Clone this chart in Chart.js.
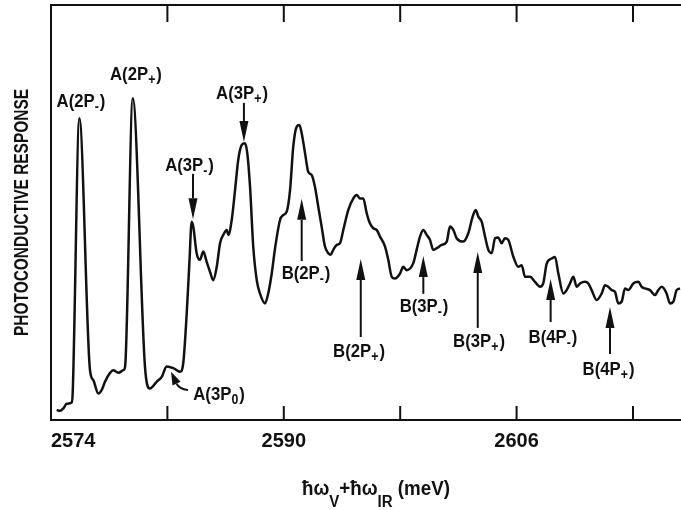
<!DOCTYPE html>
<html>
<head>
<meta charset="utf-8">
<script src="https://cdn.jsdelivr.net/npm/chart.js@4.4.1/dist/chart.umd.min.js"></script>
<style>
  html, body { margin: 0; padding: 0; background: #fff; }
  #wrap { width: 681px; height: 510px; }
</style>
</head>
<body>
<div id="wrap"><canvas id="spectrum" width="681" height="510"></canvas></div>
<script>
// photon energy (meV) and photoconductive response (arb. units)
const energy = [2574.39, 2574.62, 2574.85, 2575.08, 2575.42, 2575.49, 2575.95, 2576.68, 2576.91, 2577.25,
  2577.48, 2577.71, 2578.05, 2578.28, 2578.63, 2578.97, 2579.09, 2579.62, 2580.46, 2580.80,
  2581.26, 2581.61, 2581.95, 2582.41, 2582.87, 2583.09, 2583.33, 2583.51, 2583.67, 2583.78,
  2584.01, 2584.24, 2584.47, 2584.70, 2584.93, 2585.15, 2585.39, 2585.62, 2585.84, 2586.08,
  2586.19, 2586.42, 2586.65, 2586.87, 2587.11, 2587.33, 2587.49, 2587.68, 2587.90, 2588.14,
  2588.36, 2588.71, 2588.93, 2589.17, 2589.40, 2589.74, 2589.97, 2590.20, 2590.43, 2590.65,
  2590.89, 2591.07, 2591.23, 2591.46, 2591.68, 2591.92, 2592.14, 2592.37, 2592.60, 2592.83,
  2593.06, 2593.22, 2593.40, 2593.64, 2593.86, 2594.09, 2594.43, 2594.78, 2595.01, 2595.24,
  2595.46, 2595.70, 2595.92, 2596.15, 2596.38, 2596.61, 2596.96, 2597.18, 2597.42, 2597.64,
  2597.99, 2598.21, 2598.45, 2598.90, 2599.13, 2599.36, 2599.59, 2599.82, 2600.05, 2600.27,
  2600.51, 2600.85, 2601.20, 2601.42, 2601.65, 2601.88, 2602.34, 2602.68, 2602.98, 2603.19,
  2603.37, 2603.60, 2603.83, 2604.06, 2604.29, 2604.52, 2604.74, 2604.97, 2605.20, 2605.43,
  2605.77, 2606.12, 2606.35, 2606.58, 2606.92, 2607.26, 2607.61, 2607.83, 2608.07, 2608.41,
  2608.64, 2608.87, 2609.21, 2609.44, 2609.67, 2609.90, 2610.13, 2610.36, 2610.70, 2610.93,
  2611.16, 2611.50, 2611.85, 2612.08, 2612.30, 2612.54, 2612.76, 2612.99, 2613.22, 2613.45,
  2613.68, 2614.02, 2614.37, 2614.60, 2614.82, 2615.17, 2615.51, 2615.74, 2615.97, 2616.31,
  2616.54, 2616.77, 2617.00, 2617.23];
const response = [2.4, 2.2, 2.8, 3.9, 4.2, 6.5, 72.7, 12.0, 9.6, 6.4,
  7.2, 9.2, 11.3, 12.0, 11.4, 12.0, 12.8, 77.5, 12.8, 7.6,
  9.2, 10.4, 12.9, 12.5, 11.6, 13.7, 25.8, 37.8, 47.8, 46.6,
  40.2, 38.6, 40.6, 38.1, 35.7, 33.7, 36.9, 42.6, 44.6, 45.8,
  44.6, 48.2, 55.4, 62.7, 66.3, 66.7, 64.3, 56.2, 41.8, 33.7,
  30.5, 28.1, 30.5, 35.3, 41.4, 48.2, 49.4, 50.2, 55.4, 65.9,
  70.7, 71.1, 69.1, 64.3, 59.8, 59.0, 56.2, 51.4, 46.6, 41.8,
  40.2, 39.8, 41.0, 42.2, 42.6, 45.8, 50.6, 53.4, 54.2, 53.4,
  53.4, 49.8, 47.4, 46.2, 45.8, 44.2, 41.8, 38.6, 34.5, 34.1,
  35.3, 36.9, 36.1, 37.8, 41.0, 44.2, 45.8, 44.6, 43.4, 41.0,
  41.4, 42.2, 43.0, 46.6, 45.8, 43.8, 43.0, 45.0, 49.0, 50.6,
  49.0, 47.8, 44.2, 41.0, 40.2, 43.8, 44.0, 42.6, 43.8, 43.4,
  39.4, 36.9, 37.3, 34.5, 34.5, 33.3, 32.1, 32.9, 37.7, 38.9,
  39.3, 35.3, 30.5, 31.3, 32.9, 34.5, 32.1, 32.9, 33.3, 32.9,
  31.3, 28.9, 30.5, 32.5, 32.1, 31.3, 30.9, 28.1, 28.5, 31.7,
  31.3, 32.9, 33.3, 32.1, 31.7, 31.3, 30.1, 31.3, 32.1, 30.5,
  28.1, 28.5, 31.3, 31.7];

const tickValues = [2574, 2582, 2590, 2598, 2606, 2614];
const tickLabels = [2574, 2590, 2606];
const yTitle = 'PHOTOCONDUCTIVE RESPONSE';

// peak names, text anchor and arrow (tail -> tip) in energy/response units
const notes = [
  { text: 'A(2P-)', x: 2576.06, y: 75.4 },
  { text: 'A(2P+)', x: 2579.84, y: 81.9 },
  { text: 'A(3P-)', x: 2583.52, y: 60.0, from: [2583.76, 59.3], to: [2583.76, 48.4] },
  { text: 'A(3P+)', x: 2587.13, y: 77.3, from: [2587.26, 76.4], to: [2587.26, 67.0] },
  { text: 'A(3P0)', x: 2585.55, y: 4.8, from: [2583.42, 7.2], bend: [2582.80, 7.5], to: [2582.25, 11.6] },
  { text: 'B(2P-)', x: 2591.53, y: 34.0, from: [2591.23, 38.3], to: [2591.23, 53.3] },
  { text: 'B(2P+)', x: 2595.17, y: 15.2, from: [2595.29, 20.0], to: [2595.29, 38.8] },
  { text: 'B(3P-)', x: 2599.64, y: 26.0, from: [2599.59, 30.4], to: [2599.59, 39.5] },
  { text: 'B(3P+)', x: 2603.42, y: 17.6, from: [2603.33, 22.2], to: [2603.33, 40.5] },
  { text: 'B(4P-)', x: 2608.50, y: 18.6, from: [2608.34, 23.6], to: [2608.34, 34.0] },
  { text: 'B(4P+)', x: 2612.32, y: 10.8, from: [2612.42, 15.9], to: [2612.42, 27.2] }
];

const ink = '#111';
const sans = '"Liberation Sans", Arial, sans-serif';

// text squeezed horizontally, to get the condensed look of the figure lettering
function squeezed(ctx, text, x, y, sx) {
  ctx.save();
  ctx.translate(x, y);
  ctx.scale(sx, 1);
  ctx.fillText(text, 0, 0);
  ctx.restore();
  return ctx.measureText(text).width * sx;
}

function drawPeakLabel(ctx, text, cx, baseline) {
  const main = text.slice(0, -2);
  const sub = text.slice(-2, -1);
  const sx = 0.88;
  ctx.font = 'bold 19px ' + sans;
  const w1 = ctx.measureText(main).width * sx;
  const w3 = ctx.measureText(')').width * sx;
  ctx.font = 'bold 14px ' + sans;
  const w2 = ctx.measureText(sub).width * sx;
  let x = cx - (w1 + w2 + w3 + 1) / 2;
  ctx.font = 'bold 19px ' + sans;
  x += squeezed(ctx, main, x, baseline, sx);
  ctx.font = 'bold 14px ' + sans;
  x += squeezed(ctx, sub, x, baseline + 4, sx) + 1;
  ctx.font = 'bold 19px ' + sans;
  squeezed(ctx, ')', x, baseline, sx);
}

function arrowHead(ctx, tx, ty, ang, len, half) {
  const bx = tx - len * Math.cos(ang), by = ty - len * Math.sin(ang);
  ctx.beginPath();
  ctx.moveTo(tx, ty);
  ctx.lineTo(bx + half * Math.sin(ang), by - half * Math.cos(ang));
  ctx.lineTo(bx - half * Math.sin(ang), by + half * Math.cos(ang));
  ctx.closePath();
  ctx.fill();
  return [bx, by];
}

const figureDecor = {
  id: 'figureDecor',
  afterDraw(chart) {
    const { ctx, chartArea: a, scales: { x, y } } = chart;
    ctx.save();
    ctx.strokeStyle = ink;
    ctx.fillStyle = ink;
    ctx.lineWidth = 2;

    // top frame line and inward tick marks
    ctx.beginPath();
    ctx.moveTo(a.left, a.top);
    ctx.lineTo(a.right, a.top);
    ctx.stroke();
    tickValues.slice(1).forEach(v => {
      const px = x.getPixelForValue(v);
      ctx.beginPath();
      ctx.moveTo(px, a.top);
      ctx.lineTo(px, a.top + 17);
      ctx.moveTo(px, a.bottom);
      ctx.lineTo(px, a.bottom - 14);
      ctx.stroke();
    });

    // peak labels and arrows
    ctx.textAlign = 'left';
    ctx.textBaseline = 'alphabetic';
    notes.forEach(n => {
      drawPeakLabel(ctx, n.text, x.getPixelForValue(n.x), y.getPixelForValue(n.y));
      if (!n.from) return;
      const x0 = x.getPixelForValue(n.from[0]), y0 = y.getPixelForValue(n.from[1]);
      const x1 = x.getPixelForValue(n.to[0]), y1 = y.getPixelForValue(n.to[1]);
      if (n.bend) {
        const xb = x.getPixelForValue(n.bend[0]), yb = y.getPixelForValue(n.bend[1]);
        const ang = Math.atan2(y1 - yb, x1 - xb);
        const [bx, by] = arrowHead(ctx, x1, y1, ang, 13, 4.5);
        ctx.beginPath();
        ctx.moveTo(x0, y0);
        ctx.quadraticCurveTo(xb, yb, bx, by);
        ctx.stroke();
      } else {
        const ang = Math.atan2(y1 - y0, x1 - x0);
        const [bx, by] = arrowHead(ctx, x1, y1, ang, 21, 4.5);
        ctx.beginPath();
        ctx.moveTo(x0, y0);
        ctx.lineTo(bx, by);
        ctx.stroke();
      }
    });

    // y axis title, rotated, centred on the plot height
    ctx.font = 'bold 21px ' + sans;
    const ySx = 247 / ctx.measureText(yTitle).width;
    ctx.save();
    ctx.translate(28, (a.top + a.bottom) / 2);
    ctx.rotate(-Math.PI / 2);
    ctx.textAlign = 'center';
    ctx.scale(ySx, 1);
    ctx.fillText(yTitle, 0, 0);
    ctx.restore();

    // x axis title with subscripts
    const parts = [['ħω', 0], ['V', 1], ['+ħω', 0], ['IR', 1], [' (meV)', 0]];
    const fontFor = s => s ? 'bold 16px ' + sans : 'bold 20px ' + sans;
    let total = 0;
    parts.forEach(p => { ctx.font = fontFor(p[1]); total += ctx.measureText(p[0]).width; });
    const xSx = 148 / total;
    let tx = 376 - 74;
    parts.forEach(p => {
      ctx.font = fontFor(p[1]);
      tx += squeezed(ctx, p[0], tx, p[1] ? 507 : 495, xSx);
    });
    ctx.restore();
  }
};

new Chart(document.getElementById('spectrum'), {
  type: 'line',
  data: {
    datasets: [{
      data: energy.map((e, i) => ({ x: e, y: response[i] })),
      borderColor: ink,
      borderWidth: 2.5,
      pointRadius: 0,
      fill: false,
      cubicInterpolationMode: 'monotone'
    }]
  },
  options: {
    responsive: false,
    animation: false,
    layout: { padding: { top: 5, left: 0, right: 0, bottom: 0 } },
    plugins: { legend: { display: false }, tooltip: { enabled: false } },
    scales: {
      x: {
        type: 'linear',
        min: 2574,
        max: 2617.3,
        afterBuildTicks: s => { s.ticks = tickValues.map(v => ({ value: v })); },
        afterFit: s => { s.height = 90; },
        grid: { display: false, drawTicks: false },
        border: { display: true, color: ink, width: 2 },
        ticks: {
          align: 'inner',
          padding: 9,
          color: ink,
          maxRotation: 0,
          autoSkip: false,
          font: { family: sans, size: 20, weight: 'bold' },
          callback: v => tickLabels.includes(v) ? String(v) : ''
        }
      },
      y: {
        min: 0,
        max: 100,
        afterFit: s => { s.width = 51; },
        grid: { display: false, drawTicks: false },
        border: { display: true, color: ink, width: 2 },
        ticks: { display: false }
      }
    }
  },
  plugins: [figureDecor]
});
</script>
</body>
</html>
